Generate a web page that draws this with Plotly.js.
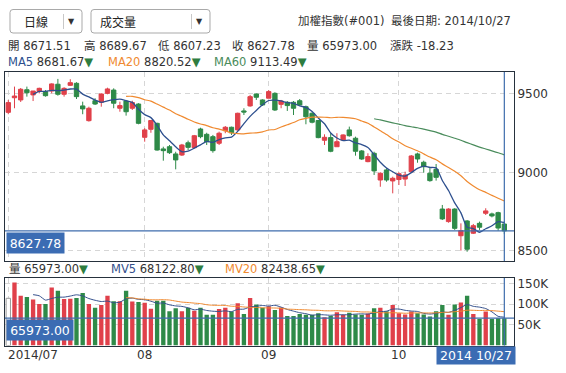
<!DOCTYPE html>
<html><head><meta charset="utf-8">
<script src="https://cdn.plot.ly/plotly-3.0.1.min.js"></script>
<style>html,body{margin:0;padding:0;background:#fff;overflow:hidden}#chart{width:566px;height:373px}</style>
</head><body><div id="chart"></div>
<script>
// ---------------- DATA ----------------
const dates = [
 '2014-07-01','2014-07-02','2014-07-03','2014-07-04','2014-07-07','2014-07-08','2014-07-09','2014-07-10','2014-07-11',
 '2014-07-14','2014-07-15','2014-07-16','2014-07-17','2014-07-18','2014-07-21','2014-07-22','2014-07-24','2014-07-25',
 '2014-07-28','2014-07-29','2014-07-30','2014-07-31',
 '2014-08-01','2014-08-04','2014-08-05','2014-08-06','2014-08-07','2014-08-08','2014-08-11','2014-08-12','2014-08-13',
 '2014-08-14','2014-08-15','2014-08-18','2014-08-19','2014-08-20','2014-08-21','2014-08-22','2014-08-25','2014-08-26',
 '2014-08-27','2014-08-28',
 '2014-09-01','2014-09-02','2014-09-03','2014-09-04','2014-09-05','2014-09-09','2014-09-10','2014-09-11','2014-09-12',
 '2014-09-15','2014-09-16','2014-09-17','2014-09-18','2014-09-19','2014-09-22','2014-09-23','2014-09-24','2014-09-25',
 '2014-09-26','2014-09-29','2014-09-30',
 '2014-10-01','2014-10-02','2014-10-03','2014-10-06','2014-10-07','2014-10-08','2014-10-09','2014-10-13','2014-10-14',
 '2014-10-15','2014-10-16','2014-10-17','2014-10-20','2014-10-21','2014-10-22','2014-10-23','2014-10-24','2014-10-27'
];
const openP = [9383,9476,9462,9527,9494,9515,9515,9519,9562,9498,9555,9568,9424,9330,9457,9447,9504,9525,9409,9455,
 9409,9436,9224,9275,9313,9150,9164,9118,9111,9189,9158,9277,9243,9228,9186,9266,9288,9271,9392,9424,
 9500,9462,9473,9504,9434,9447,9447,9457,9419,9377,9331,9205,9222,9164,9207,9271,9218,9137,9069,9122,
 8952,9016,8946,8955,8958,9005,9118,9065,8995,9020,8767,8687,8767,8597,8691,8613,8676,8740,8736,8744,8671.51];
const highP = [9462,9547,9538,9547,9519,9540,9525,9568,9596,9543,9594,9575,9451,9419,9473,9504,9540,9536,9451,9462,
 9457,9441,9282,9334,9317,9164,9175,9132,9182,9203,9239,9285,9253,9239,9260,9296,9292,9381,9409,9494,
 9504,9466,9525,9511,9462,9455,9455,9468,9426,9383,9334,9243,9250,9250,9243,9292,9228,9143,9122,9132,
 9001,9027,8973,9001,9005,9111,9126,9075,9033,9054,8793,8772,8772,8676,8697,8672,8687,8772,8744,8750,8689.67];
const lowP = [9371,9409,9449,9483,9455,9504,9483,9504,9489,9483,9551,9468,9371,9324,9430,9419,9498,9409,9387,9362,
 9398,9307,9196,9253,9139,9075,9118,9020,9105,9143,9154,9218,9175,9126,9175,9250,9239,9266,9366,9419,
 9462,9424,9473,9392,9409,9392,9366,9426,9307,9313,9218,9175,9129,9164,9201,9228,9107,9080,9065,8984,
 8909,8941,8867,8920,8914,9001,9062,8999,8941,8948,8697,8680,8634,8502,8495,8608,8634,8729,8714,8629,8607.23];
const closeP = [9445,9487,9530,9508,9519,9536,9489,9564,9498,9536,9572,9483,9405,9409,9436,9500,9532,9441,9426,9387,
 9445,9313,9271,9331,9143,9139,9126,9080,9175,9160,9234,9228,9196,9139,9250,9288,9253,9377,9385,9483,
 9479,9430,9515,9398,9455,9426,9409,9430,9355,9320,9222,9224,9135,9196,9239,9234,9135,9086,9101,9010,
 8995,8952,8963,8992,8984,9105,9086,9037,8948,8969,8704,8767,8644,8629,8511,8661,8651,8755,8723,8646.01,8627.78];
const volume = [114000,152000,120000,117000,111000,100000,100000,140000,132000,112000,113000,115000,127000,100000,91000,98000,120000,107000,107000,132000,
 106000,105000,103000,89000,108000,108000,83000,90000,83000,91000,84000,91000,74000,74000,88000,91000,82000,102000,76000,115000,
 99000,91000,95000,86000,92000,71000,71000,76000,74000,74000,78000,68000,71000,80000,74000,79000,75000,74000,77000,90000,
 91000,83000,98000,78000,75000,82000,78000,75000,70000,83000,98000,74000,99000,104000,120000,76000,64000,82000,64000,66000,65973];

const tickDates = ['2014-07-01','2014-08-01','2014-09-01','2014-10-01'];
const tickText = ['2014/07','08','09','10'];
const priceTicks = [8500,9000,9500];
const volTicks = [50000,100000,150000];
const volTickText = ['50K','100K','150K'];
const titleName = '加權指數(#001)';
const lastDateText = '最後日期: 2014/10/27';
const maNames = ['MA5','MA20','MA60'];
const maValues = ['8681.67','8820.52','9113.49'];
const mvNames = ['MV5','MV20'];
const mvValues = ['68122.80','82438.65'];
const periodOptions = ['日線','成交量'];
const crossDateText = '2014 10/27';

// ---------------- HELPERS ----------------
const W = 566, H = 373;
const px = x => x / W, py = y => (H - y) / H;
const FONT = 'DejaVu Sans, Noto Sans CJK TC, sans-serif';
const CJK = 'Noto Sans CJK TC, DejaVu Sans, sans-serif';
const UP = '#e0404a', DOWN = '#2e8a48';
const BLUE = '#3f6dad', LABELBG = '#3b6cb3';
function movAvg(arr, n) {
  return arr.map((_, i) => {
    if (i < n - 1) return null;
    let s = 0; for (let k = i - n + 1; k <= i; k++) s += arr[k];
    return s / n;
  });
}
const N = dates.length, last = N - 1;
const isUp = closeP.map((c, i) => c >= openP[i]);

// ---------------- TRACES ----------------
const traces = [
  {type:'candlestick', x:dates, open:openP, high:highP, low:lowP, close:closeP, xaxis:'x', yaxis:'y',
   increasing:{line:{color:UP,width:1}, fillcolor:UP},
   decreasing:{line:{color:DOWN,width:1}, fillcolor:DOWN},
   hoverinfo:'skip', showlegend:false},
  {type:'scatter', mode:'lines', x:dates, y:movAvg(closeP,5), xaxis:'x', yaxis:'y',
   line:{color:'#2d4f8e',width:1.3,shape:'spline',smoothing:0.6}, hoverinfo:'skip', showlegend:false},
  {type:'scatter', mode:'lines', x:dates, y:movAvg(closeP,20), xaxis:'x', yaxis:'y',
   line:{color:'#f08a30',width:1.2,shape:'spline',smoothing:0.6}, hoverinfo:'skip', showlegend:false},
  {type:'scatter', mode:'lines', x:dates, y:movAvg(closeP,60), xaxis:'x', yaxis:'y',
   line:{color:'#4a8c5c',width:1.2,shape:'spline',smoothing:0.6}, hoverinfo:'skip', showlegend:false},
  {type:'bar', x:dates, y:volume, xaxis:'x2', yaxis:'y2',
   marker:{color:isUp.map((u,i)=> i===0 ? '#ffffff' : (u?UP:DOWN)),
           line:{color:isUp.map((u,i)=> i===0 ? '#999999' : 'rgba(0,0,0,0)'), width:isUp.map((u,i)=> i===0 ? 1 : 0)}},
   hoverinfo:'skip', showlegend:false},
  {type:'scatter', mode:'lines', x:dates, y:movAvg(volume,5), xaxis:'x2', yaxis:'y2',
   line:{color:'#34508c',width:1,shape:'spline',smoothing:0.6}, hoverinfo:'skip', showlegend:false},
  {type:'scatter', mode:'lines', x:dates, y:movAvg(volume,20), xaxis:'x2', yaxis:'y2',
   line:{color:'#f08a30',width:1,shape:'spline',smoothing:0.6}, hoverinfo:'skip', showlegend:false}
];

// ---------------- LAYOUT ----------------
const mainTop = 72, mainBot = 261, volTop = 278, volBot = 345.5;
const xRange = [-0.53, 81.56];
const axCommon = {type:'category', range:xRange, tickvals:tickDates, showticklabels:false, ticks:'',
  showgrid:true, gridcolor:'#d6d6d6', griddash:'5px,4px', gridwidth:1,
  showline:true, mirror:true, linecolor:'#26313d', linewidth:1, zeroline:false, fixedrange:true,
  rangeslider:{visible:false}, domain:[px(5), px(514)]};

const annotations = [];
function txt(x, y, text, opts) {
  annotations.push(Object.assign({xref:'paper', yref:'paper', x:px(x), y:py(y), text:text, showarrow:false,
    xanchor:'left', yanchor:'middle', font:{family:FONT, size:12, color:'#333'}}, opts||{}));
}
const tri = '<span style="color:#2e7d40">▼</span>';
// header
txt(21.5, 21.5, periodOptions[0], {font:{family:CJK, size:12, color:'#222'}});
txt(98, 21.5, periodOptions[1], {font:{family:CJK, size:12, color:'#222'}});
txt(71.5, 21.5, '▼', {xanchor:'center', font:{family:FONT, size:8, color:'#333'}});
txt(199.5, 21.5, '▼', {xanchor:'center', font:{family:FONT, size:8, color:'#333'}});
txt(296, 20.5, titleName, {font:{family:FONT, size:11.5, color:'#333'}});
txt(513, 20.5, lastDateText, {xanchor:'right', font:{family:FONT, size:11.5, color:'#333'}});
// OHLC info line
const f2 = v => v.toFixed(2);
const chg = closeP[last] - closeP[last-1];
const info = [['開', f2(openP[last]), 6], ['高', f2(highP[last]), 81.5], ['低', f2(lowP[last]), 155.5],
  ['收', f2(closeP[last]), 230], ['量', f2(volume[last]), 305], ['漲跌', f2(chg), 387.5]];
info.forEach(([k, v, x]) => txt(x, 46.5, k + ' ' + v, {font:{family:FONT, size:11.5, color:'#333'}}));
// MA legend
const maCols = ['#2d4f8e','#f08a30','#4a8c5c'];
[6, 106, 211.5].forEach((x, i) => txt(x, 62, '<span style="color:' + maCols[i] + '">' + maNames[i] + '</span> ' + maValues[i] + tri,
  {font:{family:FONT, size:11.5, color:'#333'}}));
// volume legend
txt(6.5, 269, '量 ' + f2(volume[last]) + tri, {font:{family:FONT, size:11.5, color:'#333'}});
txt(109, 269, '<span style="color:#34508c">' + mvNames[0] + '</span> ' + mvValues[0] + tri, {font:{family:FONT, size:11.5, color:'#333'}});
txt(223, 269, '<span style="color:#f08a30">' + mvNames[1] + '</span> ' + mvValues[1] + tri, {font:{family:FONT, size:11.5, color:'#333'}});
// month labels
tickDates.forEach((d, i) => annotations.push({xref:'x2', yref:'paper', x:d, y:py(355), text:tickText[i], showarrow:false,
  xanchor: i === 0 ? 'left' : 'center', xshift: i === 0 ? -2 : 0, yanchor:'middle', font:{family:FONT, size:12, color:'#333'}}));
// crosshair labels
annotations.push({xref:'paper', yref:'paper', x:px(6), y:py(232), xanchor:'left', yanchor:'top', showarrow:false,
  text:f2(closeP[last]), bgcolor:LABELBG, width:57, height:20, borderpad:0, align:'center',
  font:{family:FONT, size:12.5, color:'#fff'}});
annotations.push({xref:'paper', yref:'paper', x:px(6), y:py(318.5), xanchor:'left', yanchor:'top', showarrow:false,
  text:f2(volume[last]), bgcolor:LABELBG, width:66, height:20, borderpad:0, align:'center',
  font:{family:FONT, size:12.5, color:'#fff'}});
annotations.push({xref:'paper', yref:'paper', x:px(436), y:py(345.5), xanchor:'left', yanchor:'top', showarrow:false,
  text:crossDateText, bgcolor:LABELBG, width:78, height:17, borderpad:0, align:'center',
  font:{family:FONT, size:12.5, color:'#fff'}});

function roundRect(x0, y0, x1, y1, r) {
  const X = v => px(v), Y = v => py(v);
  return `M${X(x0+r)},${Y(y0)} L${X(x1-r)},${Y(y0)} Q${X(x1)},${Y(y0)} ${X(x1)},${Y(y0+r)} L${X(x1)},${Y(y1-r)} Q${X(x1)},${Y(y1)} ${X(x1-r)},${Y(y1)} L${X(x0+r)},${Y(y1)} Q${X(x0)},${Y(y1)} ${X(x0)},${Y(y1-r)} L${X(x0)},${Y(y0+r)} Q${X(x0)},${Y(y0)} ${X(x0+r)},${Y(y0)} Z`;
}
const shapes = [
  {type:'path', xref:'paper', yref:'paper', path:roundRect(10, 9.5, 82, 33, 3), line:{color:'#a9a9a9', width:1}, fillcolor:'#fff', layer:'below'},
  {type:'path', xref:'paper', yref:'paper', path:roundRect(91, 9.5, 210, 33, 3), line:{color:'#a9a9a9', width:1}, fillcolor:'#fff', layer:'below'},
  {type:'line', xref:'paper', yref:'paper', x0:px(63.5), x1:px(63.5), y0:py(14), y1:py(29), line:{color:'#c8c8c8', width:1}},
  {type:'line', xref:'paper', yref:'paper', x0:px(191.5), x1:px(191.5), y0:py(14), y1:py(29), line:{color:'#c8c8c8', width:1}},
  // crosshair
  {type:'line', xref:'paper', yref:'y', x0:px(5), x1:px(514), y0:closeP[last], y1:closeP[last], line:{color:BLUE, width:1.2}, layer:'above'},
  {type:'line', xref:'x', yref:'paper', x0:dates[last], x1:dates[last], y0:py(mainBot), y1:py(mainTop), line:{color:BLUE, width:1.2}, layer:'above'},
  {type:'line', xref:'paper', yref:'y2', x0:px(5), x1:px(514), y0:volume[last], y1:volume[last], line:{color:BLUE, width:1.2}, layer:'above'},
  {type:'line', xref:'x2', yref:'paper', x0:dates[last], x1:dates[last], y0:py(volBot), y1:py(volTop), line:{color:BLUE, width:1.2}, layer:'above'}
];

const layout = {
  width:W, height:H, margin:{l:0, r:0, t:0, b:0}, paper_bgcolor:'#fff', plot_bgcolor:'#fff',
  showlegend:false, bargap:0.3, boxgap:0.3, boxgroupgap:0, dragmode:false, hovermode:false,
  xaxis:Object.assign({}, axCommon, {anchor:'y'}),
  xaxis2:Object.assign({}, axCommon, {anchor:'y2'}),
  yaxis:{domain:[py(mainBot), py(mainTop)], range:[8436, 9640], side:'right', tickvals:priceTicks,
    ticks:'', showgrid:true, gridcolor:'#d6d6d6', griddash:'5px,4px', showline:true, mirror:true,
    linecolor:'#26313d', linewidth:1, zeroline:false, fixedrange:true, anchor:'x',
    tickfont:{family:FONT, size:12, color:'#333'}},
  yaxis2:{domain:[py(volBot), py(volTop)], range:[0, 163000], side:'right', tickvals:volTicks, ticktext:volTickText,
    ticks:'', showgrid:true, gridcolor:'#d6d6d6', griddash:'5px,4px', showline:true, mirror:true,
    linecolor:'#26313d', linewidth:1, zeroline:false, fixedrange:true, anchor:'x2',
    tickfont:{family:FONT, size:12, color:'#333'}},
  annotations:annotations, shapes:shapes
};
Plotly.newPlot('chart', traces, layout, {staticPlot:true, displayModeBar:false});
</script>
</body></html>
